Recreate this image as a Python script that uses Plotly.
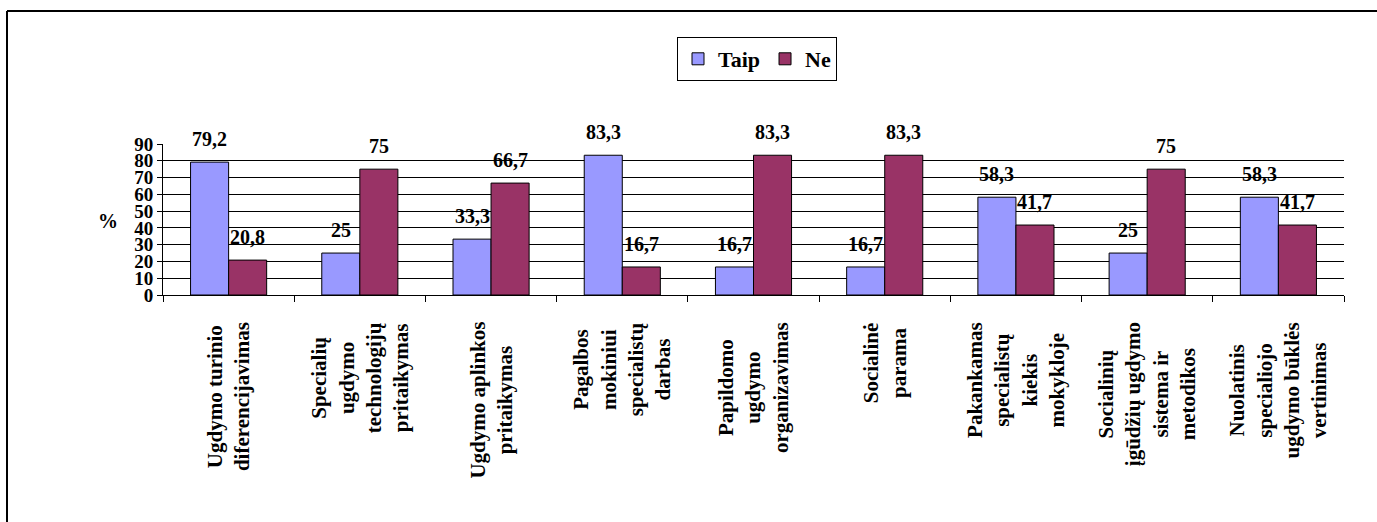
import plotly.graph_objects as go

categories = [
    "Ugdymo turinio<br>diferencijavimas",
    "Specialių<br>ugdymo<br>technologijų<br>pritaikymas",
    "Ugdymo aplinkos<br>pritaikymas",
    "Pagalbos<br>mokiniui<br>specialistų<br>darbas",
    "Papildomo<br>ugdymo<br>organizavimas",
    "Socialinė<br>parama",
    "Pakankamas<br>specialistų<br>kiekis<br>mokykloje",
    "Socialinių<br>įgūdžių ugdymo<br>sistema ir<br>metodikos",
    "Nuolatinis<br>specialiojo<br>ugdymo būklės<br>vertinimas",
]
taip = [79.2, 25, 33.3, 83.3, 16.7, 16.7, 58.3, 25, 58.3]
ne = [20.8, 75, 66.7, 16.7, 83.3, 83.3, 41.7, 75, 41.7]
y_ticks = [0, 10, 20, 30, 40, 50, 60, 70, 80, 90]

W, H = 1377, 522
L, R, T, B = 163, 1344, 144, 295
FONT = "'Liberation Serif', 'Times New Roman', Times, 'DejaVu Serif', serif"

cat_ids = list(range(len(categories)))


def px_x(p):
    return (p - L) / (R - L)


def px_y(p):
    return (B - p) / (B - T)


def fmt(v):
    return f"{v:g}".replace(".", ",")


fig = go.Figure()
fig.add_trace(go.Bar(
    name="Taip", x=cat_ids, y=taip,
    marker=dict(color="#9999FF", line=dict(color="black", width=1)),
))
fig.add_trace(go.Bar(
    name="Ne", x=cat_ids, y=ne,
    marker=dict(color="#993366", line=dict(color="black", width=1)),
))

cat_w = (R - L) / len(categories)
bargap = 0.42
bar_w = cat_w * (1 - bargap) / 2

annotations = []
for i in cat_ids:
    annotations.append(dict(x=i, y=taip[i], xref="x", yref="y", text=f"<b>{fmt(taip[i])}</b>",
                            showarrow=False, xanchor="center", yanchor="bottom",
                            xshift=-bar_w / 2, yshift=10,
                            font=dict(family=FONT, size=20, color="black")))
    annotations.append(dict(x=i, y=ne[i], xref="x", yref="y", text=f"<b>{fmt(ne[i])}</b>",
                            showarrow=False, xanchor="center", yanchor="bottom",
                            xshift=bar_w / 2, yshift=10,
                            font=dict(family=FONT, size=20, color="black")))
    annotations.append(dict(x=i, y=px_y(320), xref="x", yref="paper",
                            text=f"<b>{categories[i]}</b>", textangle=-90,
                            showarrow=False, xanchor="center", yanchor="top", align="center",
                            font=dict(family=FONT, size=21, color="black")))

annotations.append(dict(x=px_x(108), y=px_y(221), xref="paper", yref="paper", text="<b>%</b>",
                        showarrow=False, xanchor="center", yanchor="middle",
                        font=dict(family=FONT, size=20, color="black")))

shapes = [
    dict(type="line", xref="paper", yref="paper", x0=px_x(7), x1=px_x(W + 5),
         y0=px_y(11), y1=px_y(11), line=dict(color="black", width=2)),
    dict(type="line", xref="paper", yref="paper", x0=px_x(7), x1=px_x(7),
         y0=px_y(11), y1=px_y(H + 5), line=dict(color="black", width=2)),
]

fig.update_layout(
    width=W, height=H,
    margin=dict(l=L, r=W - R, t=T, b=H - B),
    paper_bgcolor="white", plot_bgcolor="white",
    barmode="group", bargap=bargap, bargroupgap=0,
    font=dict(family=FONT, size=20, color="black"),
    showlegend=True,
    legend=dict(orientation="h", x=px_x(677), y=px_y(37), xanchor="left", yanchor="top",
                bordercolor="black", borderwidth=1, bgcolor="white",
                font=dict(family=FONT, size=22, color="black", weight="bold"),
                itemwidth=30, tracegroupgap=0),
    annotations=annotations,
    shapes=shapes,
    xaxis=dict(
        type="linear", range=[-0.5, len(categories) - 0.5],
        tickvals=[i - 0.5 for i in range(len(categories) + 1)],
        showticklabels=False, ticks="outside", ticklen=6, tickcolor="black", tickwidth=1,
        showline=True, linecolor="black", linewidth=1, showgrid=False, zeroline=False,
        fixedrange=True,
    ),
    yaxis=dict(
        range=[0, 90], tickvals=y_ticks, ticktext=[str(v) for v in y_ticks],
        ticks="outside", ticklen=5, tickcolor="black", tickwidth=1,
        showline=True, linecolor="black", linewidth=1,
        showgrid=True, gridcolor="black", gridwidth=1, zeroline=False,
        tickfont=dict(family=FONT, size=19, color="black", weight="bold"),
        fixedrange=True,
    ),
)

fig.write_html("out.html")
